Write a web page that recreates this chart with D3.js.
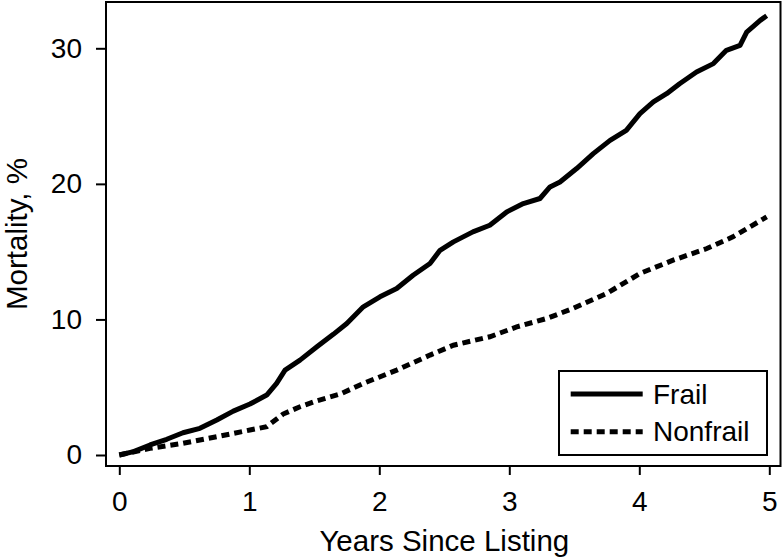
<!DOCTYPE html>
<html>
<head>
<meta charset="utf-8">
<script src="https://cdn.jsdelivr.net/npm/d3@7"></script>
<style>
  body { margin: 0; background: #fff; }
  text { font-family: "Liberation Sans", Arial, Helvetica, sans-serif; fill: #000; }
</style>
</head>
<body>
<div id="chart"></div>
<script>
// Cumulative mortality (%)
const frailYears = [0, 0.11, 0.236, 0.365, 0.49, 0.62, 0.75, 0.877, 1.005, 1.134, 1.21, 1.275, 1.39, 1.52, 1.646, 1.75, 1.877, 2.005, 2.134, 2.26, 2.39, 2.467, 2.57, 2.72, 2.85, 2.98, 3.108, 3.236, 3.313, 3.39, 3.518, 3.646, 3.775, 3.9, 4.005, 4.108, 4.21, 4.31, 4.44, 4.57, 4.67, 4.775, 4.826, 4.93, 4.98];
const frailMortality = [0, 0.25, 0.74, 1.16, 1.64, 1.97, 2.58, 3.24, 3.76, 4.42, 5.28, 6.26, 7.0, 7.98, 8.9, 9.7, 10.93, 11.67, 12.28, 13.26, 14.13, 15.1, 15.72, 16.46, 16.95, 17.93, 18.55, 18.92, 19.77, 20.14, 21.13, 22.23, 23.21, 23.95, 25.18, 26.04, 26.65, 27.39, 28.25, 28.87, 29.85, 30.21, 31.19, 32.06, 32.4];

const nonfrailYears = [0, 0.236, 0.49, 0.75, 1.005, 1.134, 1.26, 1.39, 1.52, 1.7, 1.877, 2.134, 2.39, 2.57, 2.85, 3.057, 3.288, 3.49, 3.75, 4.005, 4.26, 4.52, 4.72, 4.98];
const nonfrailMortality = [0, 0.49, 0.86, 1.35, 1.84, 2.09, 3.02, 3.56, 4.0, 4.5, 5.28, 6.26, 7.37, 8.1, 8.72, 9.45, 10.07, 10.81, 11.92, 13.39, 14.37, 15.23, 16.09, 17.56];

const xTicks = [0, 1, 2, 3, 4, 5];
const yTicks = [0, 10, 20, 30];
const seriesNames = ["Frail", "Nonfrail"];

const width = 783, height = 558;
const box = { left: 106, right: 780.5, top: 2, bottom: 466 };

const svg = d3.select("#chart").append("svg")
    .attr("width", width)
    .attr("height", height);

const x = d3.scaleLinear().domain([0, 5]).range([119.3, 769.3]);
const y = d3.scaleLinear().domain([0, 30]).range([455, 48.3]);

// Axes
const yAxis = svg.append("g")
    .attr("transform", `translate(${box.left},0)`)
    .call(d3.axisLeft(y).tickValues(yTicks).tickFormat(d3.format("d")).tickSize(10).tickPadding(14));

const xAxis = svg.append("g")
    .attr("transform", `translate(0,${box.bottom})`)
    .call(d3.axisBottom(x).tickValues(xTicks).tickFormat(d3.format("d")).tickSize(9).tickPadding(16));

[xAxis, yAxis].forEach(g => {
    g.attr("font-family", null);
    g.select(".domain").remove();
    g.selectAll(".tick line").attr("stroke", "#000").attr("stroke-width", 2);
    g.selectAll(".tick text").attr("font-size", 28);
});

// Plot frame
svg.append("rect")
    .attr("x", box.left)
    .attr("y", box.top)
    .attr("width", box.right - box.left)
    .attr("height", box.bottom - box.top)
    .attr("fill", "none")
    .attr("stroke", "#000")
    .attr("stroke-width", 2);

// Curves
const line = d3.line()
    .x(d => x(d[0]))
    .y(d => y(d[1]));

const frail = frailYears.map((t, i) => [t, frailMortality[i]]);
const nonfrail = nonfrailYears.map((t, i) => [t, nonfrailMortality[i]]);

svg.append("path")
    .attr("d", line(nonfrail))
    .attr("fill", "none")
    .attr("stroke", "#000")
    .attr("stroke-width", 5)
    .attr("stroke-dasharray", "8,5");

svg.append("path")
    .attr("d", line(frail))
    .attr("fill", "none")
    .attr("stroke", "#000")
    .attr("stroke-width", 5)
    .attr("stroke-linejoin", "round");

// Axis titles
svg.append("text")
    .attr("x", x(2.5))
    .attr("y", 551)
    .attr("text-anchor", "middle")
    .attr("font-size", 29.5)
    .text("Years Since Listing");

svg.append("text")
    .attr("transform", `translate(27,${(box.top + box.bottom) / 2}) rotate(-90)`)
    .attr("text-anchor", "middle")
    .attr("font-size", 29.5)
    .text("Mortality, %");

// Legend
const legend = svg.append("g");
legend.append("rect")
    .attr("x", 559)
    .attr("y", 371)
    .attr("width", 208)
    .attr("height", 84)
    .attr("fill", "#fff")
    .attr("stroke", "#000")
    .attr("stroke-width", 2);

seriesNames.forEach((name, i) => {
    const ly = 394 + i * 37.7;
    legend.append("line")
        .attr("x1", 570.7)
        .attr("x2", 642.7)
        .attr("y1", ly)
        .attr("y2", ly)
        .attr("stroke", "#000")
        .attr("stroke-width", 5)
        .attr("stroke-dasharray", i === 1 ? "8,5" : null);
    legend.append("text")
        .attr("x", 653)
        .attr("y", ly + 9.5)
        .attr("font-size", 28)
        .text(name);
});
</script>
</body>
</html>
